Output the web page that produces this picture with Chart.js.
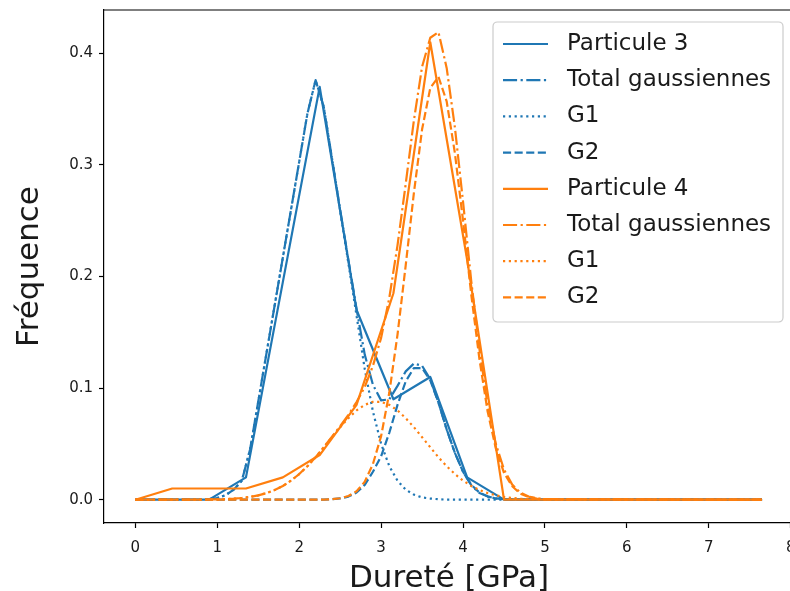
<!DOCTYPE html>
<html>
<head>
<meta charset="utf-8">
<script src="https://cdn.jsdelivr.net/npm/chart.js@4.4.1/dist/chart.umd.min.js"></script>
<style>
  html, body { margin: 0; padding: 0; background: #fff; overflow: hidden; }
  canvas { display: block; }
</style>
</head>
<body>
<canvas id="chart" width="800" height="591"></canvas>
<script>
// histogram (bin centres) for both particles
const histX = [0, 0.45, 0.9, 1.35, 1.8, 2.25, 2.7, 3.15, 3.6, 4.05, 4.5, 4.95, 5.4, 5.85, 6.3, 6.75, 7.2, 7.65];
const p3Hist = [0, 0, 0, 0.02, 0.195, 0.37, 0.17, 0.09, 0.11, 0.02, 0, 0, 0, 0, 0, 0, 0, 0];
const p4Hist = [0, 0.01, 0.01, 0.01, 0.02, 0.04, 0.085, 0.185, 0.41, 0.215, 0, 0, 0, 0, 0, 0, 0, 0];

// gaussian fit curves
const fitX = [0, 0.8, 0.9, 1.0, 1.1, 1.2, 1.3, 1.4, 1.5, 1.6, 1.7, 1.8, 1.9, 2.0, 2.1, 2.2, 2.3, 2.4, 2.5, 2.6,
  2.7, 2.8, 2.9, 3.0, 3.1, 3.2, 3.3, 3.4, 3.5, 3.6, 3.7, 3.8, 3.9, 4.0, 4.1, 4.2, 4.3, 4.4, 4.5, 4.6,
  4.7, 4.8, 4.9, 5.0, 7.65];
const p3Total = [0, 0, 0.0005, 0.0015, 0.004, 0.009, 0.017, 0.045, 0.088, 0.131, 0.174, 0.217, 0.26, 0.303, 0.346, 0.376, 0.352, 0.306, 0.26, 0.215,
  0.171, 0.13, 0.103, 0.089, 0.09, 0.102, 0.115, 0.122, 0.12, 0.108, 0.087, 0.063, 0.042, 0.025, 0.013, 0.006, 0.003, 0.001, 0.0004, 0,
  0, 0, 0, 0, 0];
const p3G1 = [0, 0, 0.0005, 0.0015, 0.004, 0.009, 0.017, 0.045, 0.088, 0.131, 0.174, 0.217, 0.26, 0.303, 0.346, 0.376, 0.352, 0.306, 0.259, 0.212,
  0.165, 0.117, 0.079, 0.05, 0.03, 0.017, 0.009, 0.0045, 0.002, 0.001, 0.0004, 0, 0, 0, 0, 0, 0, 0, 0, 0,
  0, 0, 0, 0, 0];
const p3G2 = [0, 0, 0, 0, 0, 0, 0, 0, 0, 0, 0, 0, 0, 0, 0, 0, 0, 0.0004, 0.0011, 0.0028,
  0.0064, 0.0133, 0.025, 0.039, 0.06, 0.085, 0.106, 0.118, 0.118, 0.107, 0.087, 0.063, 0.042, 0.025, 0.0133, 0.0064, 0.0028, 0.0011, 0.0004, 0,
  0, 0, 0, 0, 0];
const p4Total = [0, 0.0001, 0.0002, 0.0003, 0.0005, 0.0009, 0.0015, 0.0025, 0.0039, 0.0059, 0.0086, 0.0123, 0.0171, 0.023, 0.03, 0.038, 0.047, 0.0565, 0.066, 0.076,
  0.0875, 0.101, 0.12, 0.145, 0.181, 0.228, 0.283, 0.34, 0.388, 0.414, 0.419, 0.387, 0.334, 0.267, 0.196, 0.135, 0.085, 0.05, 0.027, 0.0135,
  0.0063, 0.0028, 0.0012, 0.0005, 0];
const p4G1 = [0, 0.0001, 0.0002, 0.0003, 0.0005, 0.0009, 0.0015, 0.0025, 0.0039, 0.0059, 0.0086, 0.0123, 0.0171, 0.023, 0.03, 0.038, 0.047, 0.056, 0.065, 0.073,
  0.08, 0.085, 0.0877, 0.0877, 0.085, 0.08, 0.073, 0.065, 0.056, 0.047, 0.038, 0.03, 0.023, 0.0171, 0.0123, 0.0086, 0.0059, 0.0039, 0.0025, 0.0015,
  0.0009, 0.0005, 0.0003, 0.0002, 0];
const p4G2 = [0, 0, 0, 0, 0, 0, 0, 0, 0, 0, 0, 0, 0, 0, 0, 0, 0, 0.0005, 0.0013, 0.0033,
  0.0075, 0.016, 0.032, 0.057, 0.096, 0.148, 0.21, 0.275, 0.332, 0.369, 0.379, 0.357, 0.311, 0.25, 0.184, 0.126, 0.079, 0.046, 0.024, 0.012,
  0.0054, 0.0023, 0.0009, 0.0003, 0];

const xTicks = [0, 1, 2, 3, 4, 5, 6, 7, 8];
const yTicks = [0, 0.1, 0.2, 0.3, 0.4];

const BLUE = '#1f77b4';
const ORANGE = '#ff7f0e';
const LW = 2.2;
const SOLID = [];
const DASHED = [8.1, 3.5];
const DASHDOT = [14.1, 3.5, 2.2, 3.5];
const DOTTED = [2.2, 3.6];
const FONT = 'DejaVu Sans';
const TXT = '#1a1a1a';

const series = [
  { label: 'Particule 3', xs: histX, ys: p3Hist, color: BLUE, dash: SOLID },
  { label: 'Total gaussiennes', xs: fitX, ys: p3Total, color: BLUE, dash: DASHDOT },
  { label: 'G1', xs: fitX, ys: p3G1, color: BLUE, dash: DOTTED },
  { label: 'G2', xs: fitX, ys: p3G2, color: BLUE, dash: DASHED },
  { label: 'Particule 4', xs: histX, ys: p4Hist, color: ORANGE, dash: SOLID },
  { label: 'Total gaussiennes', xs: fitX, ys: p4Total, color: ORANGE, dash: DASHDOT },
  { label: 'G1', xs: fitX, ys: p4G1, color: ORANGE, dash: DOTTED },
  { label: 'G2', xs: fitX, ys: p4G2, color: ORANGE, dash: DASHED },
];

// top/right spines like matplotlib's box
const framePlugin = {
  id: 'frame',
  afterDraw(chart) {
    const { ctx, chartArea: a } = chart;
    ctx.save();
    ctx.strokeStyle = '#000';
    ctx.lineWidth = 1.2;
    ctx.beginPath();
    ctx.moveTo(a.left, a.top);
    ctx.lineTo(a.right, a.top);
    ctx.lineTo(a.right, a.bottom);
    ctx.stroke();
    ctx.restore();
  }
};

// matplotlib-style legend box, upper right
const legendPlugin = {
  id: 'mplLegend',
  afterDraw(chart) {
    const ctx = chart.ctx;
    const bx = 493, by = 22, bw = 290, bh = 300, r = 4.4;
    ctx.save();
    ctx.beginPath();
    ctx.moveTo(bx + r, by);
    ctx.arcTo(bx + bw, by, bx + bw, by + bh, r);
    ctx.arcTo(bx + bw, by + bh, bx, by + bh, r);
    ctx.arcTo(bx, by + bh, bx, by, r);
    ctx.arcTo(bx, by, bx + bw, by, r);
    ctx.closePath();
    ctx.fillStyle = 'rgba(255,255,255,0.8)';
    ctx.fill();
    ctx.strokeStyle = '#cccccc';
    ctx.lineWidth = 1.2;
    ctx.stroke();

    ctx.font = '23px "' + FONT + '"';
    ctx.textBaseline = 'middle';
    ctx.textAlign = 'left';
    series.forEach((s, i) => {
      const y = 44 + i * 36.2;
      ctx.beginPath();
      ctx.setLineDash(s.dash);
      ctx.strokeStyle = s.color;
      ctx.lineWidth = LW;
      ctx.lineCap = 'butt';
      ctx.moveTo(503, y);
      ctx.lineTo(548, y);
      ctx.stroke();
      ctx.setLineDash([]);
      ctx.fillStyle = TXT;
      ctx.fillText(s.label, 567, y);
    });
    ctx.restore();
  }
};

new Chart(document.getElementById('chart'), {
  type: 'line',
  data: {
    datasets: series.map((s, i) => ({
      label: s.label,
      data: s.xs.map((x, j) => ({ x, y: s.ys[j] })),
      borderColor: s.color,
      backgroundColor: s.color,
      borderWidth: LW,
      borderDash: s.dash,
      borderCapStyle: 'butt',
      borderJoinStyle: 'round',
      pointRadius: 0,
      tension: 0,
      fill: false,
      order: series.length - i
    }))
  },
  options: {
    responsive: false,
    animation: false,
    devicePixelRatio: 1,
    layout: { padding: { top: 10, right: 6, left: 0, bottom: 0 } },
    plugins: { legend: { display: false }, tooltip: { enabled: false } },
    scales: {
      x: {
        type: 'linear',
        min: -0.383,
        max: 8.04,
        afterFit: s => { s.height = 68; s.paddingLeft = 0; s.paddingRight = 0; },
        afterBuildTicks: s => { s.ticks = xTicks.map(v => ({ value: v })); },
        ticks: { font: { family: FONT, size: 15 }, color: TXT, padding: 11, maxRotation: 0, callback: v => String(v) },
        grid: { display: true, drawOnChartArea: false, drawTicks: true, tickLength: 5, tickColor: '#000', tickWidth: 1.2 },
        border: { display: true, color: '#000', width: 1.2 },
        title: { display: true, text: 'Dureté [GPa]', color: TXT, font: { family: FONT, size: 31, lineHeight: 1 }, padding: { top: 0, bottom: -3 } }
      },
      y: {
        type: 'linear',
        min: -0.0209,
        max: 0.4389,
        afterFit: s => { s.width = 104; s.paddingTop = 0; s.paddingBottom = 0; },
        afterBuildTicks: s => { s.ticks = yTicks.map(v => ({ value: v })); },
        ticks: { font: { family: FONT, size: 15 }, color: TXT, padding: 6, callback: v => v.toFixed(1) },
        grid: { display: true, drawOnChartArea: false, drawTicks: true, tickLength: 5, tickColor: '#000', tickWidth: 1.2 },
        border: { display: true, color: '#000', width: 1.2 },
        title: { display: true, text: 'Fréquence', color: TXT, font: { family: FONT, size: 31, lineHeight: 1 }, padding: { top: 14, bottom: 0 } }
      }
    }
  },
  plugins: [framePlugin, legendPlugin]
});
</script>
</body>
</html>
